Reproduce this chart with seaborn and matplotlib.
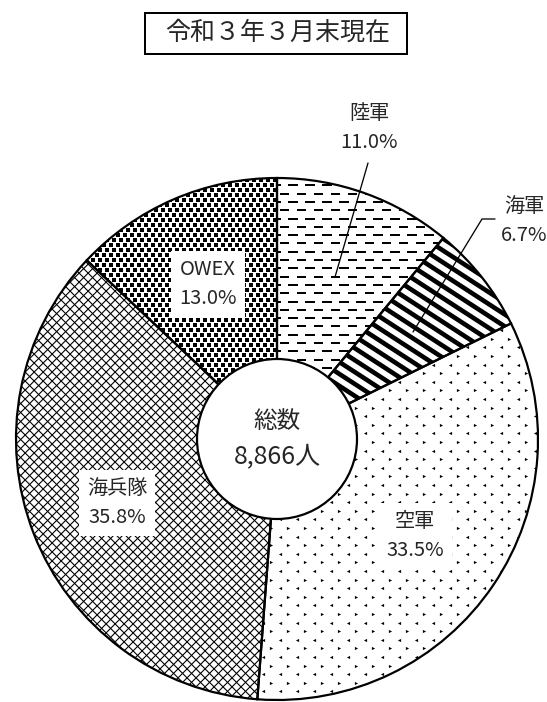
#!/usr/bin/env python3
"""
Donut-style pie of personnel by branch, hatched in monochrome.
"""

import numpy as np
import matplotlib

matplotlib.use("Agg")
import matplotlib.pyplot as plt
import seaborn as sns
from matplotlib.collections import LineCollection
from matplotlib.patches import Circle, Rectangle

# --- data -------------------------------------------------------------
branches = ["陸軍", "海軍", "空軍", "海兵隊", "OWEX"]
shares = [11.0, 6.7, 33.5, 35.8, 13.0]
total = 8866
title = "令和３年３月末現在"

# --- layout (pixel units, origin top-left) -----------------------------
W, H = 547, 702
CX, CY_PX, R, R_IN = 277, 439, 261, 80


def py(y):
    return H - y


CY = py(CY_PX)
PX = 0.72  # points per pixel at dpi 100

label_pos = {
    "陸軍": (369, 128),
    "海軍": (524, 221),
    "空軍": (415, 536),
    "海兵隊": (117, 503),
    "OWEX": (208, 284),
}
boxed = {"空軍", "海兵隊", "OWEX"}
leaders = {
    "陸軍": [(368, 163), (335, 277)],
    "海軍": [(495, 219), (482, 219), (413, 332)],
}


def stripes(angle, step, lw_px):
    a = np.deg2rad(angle)
    d = np.array([np.cos(a), np.sin(a)])
    n = np.array([-np.sin(a), np.cos(a)])
    c = np.array([CX, CY])
    segs = []
    for k in np.arange(-1.5 * R, 1.5 * R, step):
        p = c + k * n
        segs.append([p - 1.5 * R * d, p + 1.5 * R * d])
    return LineCollection(segs, colors="black", linewidths=lw_px * PX,
                          capstyle="butt")


def dashes(row_step, dash, period, lw_px):
    segs = []
    for i, y in enumerate(np.arange(CY - R, CY + R, row_step)):
        for x in np.arange(CX - R + (i % 2) * period / 2, CX + R, period):
            segs.append([(x, y), (x + dash, y)])
    return LineCollection(segs, colors="black", linewidths=lw_px * PX,
                          capstyle="butt")


def lattice(dx, dy):
    pts = []
    for i, y in enumerate(np.arange(CY - R, CY + R, dy)):
        xs = np.arange(CX - R + (i % 2) * dx / 2, CX + R, dx)
        pts.append(np.column_stack([xs, np.full_like(xs, y), np.full_like(xs, i % 2)]))
    return np.vstack(pts)


def add_texture(ax, name, wedge):
    arts = []
    if name == "陸軍":
        arts.append(ax.add_collection(dashes(8.3, 9.5, 17, 2.0)))
    elif name == "海軍":
        arts.append(ax.add_collection(stripes(-33, 10, 4.6)))
    elif name == "空軍":
        pts = lattice(17, 8.6)
        for flag, mk in ((0, ">"), (1, "<")):
            sel = pts[pts[:, 2] == flag]
            arts.append(ax.scatter(sel[:, 0], sel[:, 1], marker=mk,
                                   s=(3.2 * PX) ** 2, color="black",
                                   linewidths=0, zorder=2))
    elif name == "海兵隊":
        arts.append(ax.add_collection(stripes(45, 6.36, 1.1)))
        arts.append(ax.add_collection(stripes(-45, 6.36, 1.1)))
    elif name == "OWEX":
        pts = lattice(7, 5)
        arts.append(ax.scatter(pts[:, 0], pts[:, 1], marker="s",
                               s=(3.3 * PX) ** 2, color="black",
                               linewidths=0, zorder=2))
    for art in arts:
        art.set_zorder(2)
        art.set_clip_path(wedge)


def main() -> None:
    sns.set_theme(style="white")
    plt.rcParams["font.family"] = ["Noto Sans CJK JP", "DejaVu Sans"]

    fig = plt.figure(figsize=(W / 100, H / 100), dpi=100)
    ax = fig.add_axes([0, 0, 1, 1])

    pie_kw = dict(startangle=90, counterclock=False, center=(CX, CY), radius=R)
    faces, _ = ax.pie(shares, colors=["white"] * len(shares),
                      wedgeprops=dict(linewidth=0, zorder=1), **pie_kw)
    for name, wedge in zip(branches, faces):
        add_texture(ax, name, wedge)
    ax.pie(shares, wedgeprops=dict(fill=False, edgecolor="black",
                                   linewidth=2.2 * PX, zorder=3), **pie_kw)

    ax.add_patch(Circle((CX, CY), R_IN, facecolor="white", edgecolor="black",
                        linewidth=2.2 * PX, zorder=4))
    ax.text(CX, py(422), "総数", ha="center", va="center", fontsize=17,
            zorder=5)
    ax.text(CX, py(456), f"{total:,}人", ha="center", va="center",
            fontsize=18, zorder=5)

    for name, val in zip(branches, shares):
        x, y = label_pos[name]
        bbox = (dict(boxstyle="square,pad=0.4", facecolor="white",
                     edgecolor="none") if name in boxed else None)
        ax.text(x, py(y), f"{name}\n{val:.1f}%", ha="center", va="center",
                fontsize=14.5, linespacing=1.5, bbox=bbox, zorder=5)
        if name in leaders:
            xs, ys = zip(*leaders[name])
            ax.plot(xs, [py(v) for v in ys], color="black",
                    linewidth=1.3 * PX, zorder=5)

    ax.add_patch(Rectangle((145, py(54)), 262, 41, fill=False,
                           edgecolor="black", linewidth=2.0 * PX, zorder=5))
    ax.text(278, py(33), title, ha="center", va="center", fontsize=18,
            zorder=6)

    ax.set_xlim(0, W)
    ax.set_ylim(0, H)
    ax.set_aspect("equal")
    ax.axis("off")

    fig.savefig("out.png", dpi=100)


if __name__ == "__main__":
    main()
